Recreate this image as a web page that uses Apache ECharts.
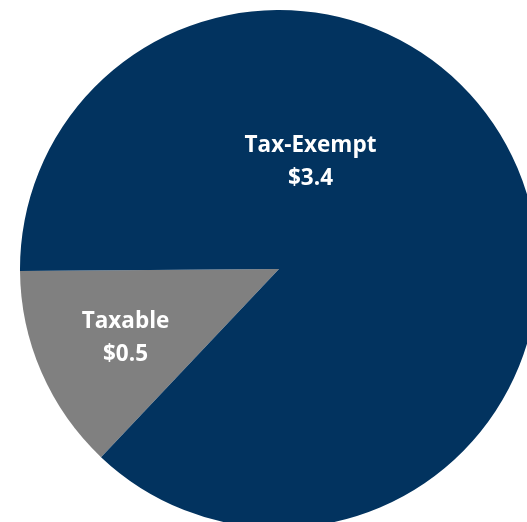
<!DOCTYPE html>
<html>
<head>
<meta charset="utf-8">
<script src="https://cdn.jsdelivr.net/npm/echarts@6/dist/echarts.min.js"></script>
<style>
  html, body { margin: 0; padding: 0; background: #fff; }
  #chart { width: 527px; height: 522px; }
</style>
</head>
<body>
<div id="chart"></div>
<script>
const categories = ['Taxable', 'Tax-Exempt']
const values = [0.5, 3.4]
const valueLabels = ['$0.5', '$3.4']
const colors = ['#808080', '#02335F']
const labelOffsets = [[-32, 16], [-90, -54]]

const chart = echarts.init(document.getElementById('chart'))

const option = {
  animation: false,
  series: [
    {
      type: 'pie',
      center: [279, 269],
      radius: 259,
      startAngle: 226.6,
      clockwise: true,
      silent: true,
      label: {
        show: true,
        position: 'inside',
        color: '#fff',
        fontFamily: 'Open Sans',
        fontWeight: 'bold',
        fontSize: 22.5,
        lineHeight: 33,
        formatter: p => p.name + '\n' + valueLabels[p.dataIndex]
      },
      labelLine: { show: false },
      itemStyle: { borderWidth: 0 },
      data: categories.map((name, i) => ({
        name,
        value: values[i],
        itemStyle: { color: colors[i] },
        label: { offset: labelOffsets[i] }
      }))
    }
  ]
}

chart.setOption(option)
</script>
</body>
</html>
